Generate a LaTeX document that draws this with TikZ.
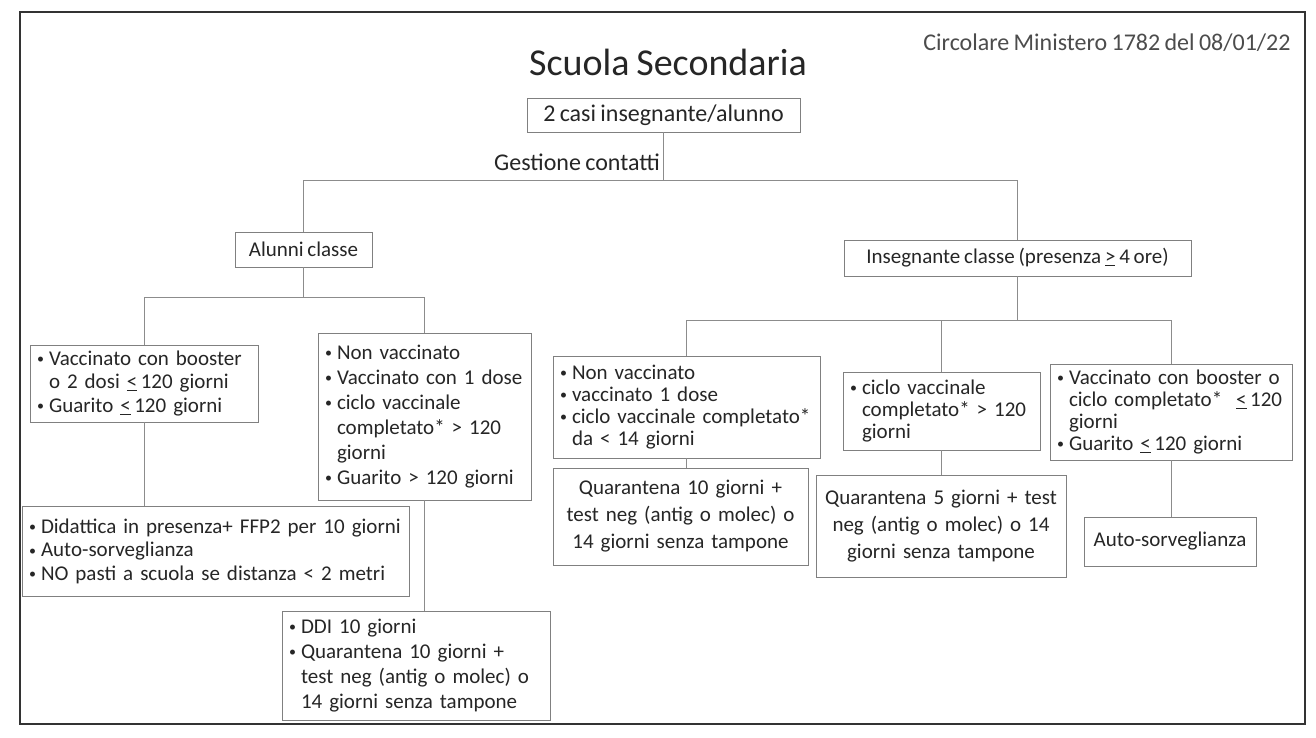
\documentclass[tikz,border=0pt]{standalone}
\usepackage{fontspec}
\setmainfont{Carlito}[WordSpace=0.8]
\newcommand\bl{\makebox[12pt][l]{\raisebox{1.5pt}{\fontsize{14}{14}\selectfont\textbullet}}}
\newcommand\ind{\hspace*{12pt}}
\newcommand\myle{\underline{<}}
\newcommand\myge{\underline{>}}
\begin{document}
\begin{tikzpicture}[x=1pt,y=-1pt,
  box/.style={draw=black!50, line width=0.8pt, inner xsep=7pt, inner ysep=0pt, text=black!85},
  conn/.style={draw=black!45, line width=0.8pt},
  fA/.style={font=\fontsize{21}{23.5}\selectfont},
  fB/.style={font=\fontsize{21}{25}\selectfont},
  fC/.style={font=\fontsize{21}{22}\selectfont},
  fD/.style={font=\fontsize{21}{27}\selectfont}]
\useasboundingbox (0,0) rectangle (1316,738);
\fill[white] (0,0) rectangle (1316,738);
\draw[line width=1.5pt, black!80] (20,12) rectangle (1305,724);

% titles
\node[text=black!85, font=\fontsize{38}{40}\selectfont] (title) at (668,62) {Scuola Secondaria};
\node[text=black!70, font=\fontsize{24}{26}\selectfont] (circ) at (1107,43) {Circolare Ministero 1782 del 08/01/22};

% top
\node[box, font=\fontsize{24}{26}\selectfont, minimum width=273pt, minimum height=34pt] (b0) at (663.5,115) {2 casi insegnante/alunno};
\node[text=black!85, font=\fontsize{24}{26}\selectfont] (gest) at (577,162) {Gestione contatti};

\node[box, fB, minimum width=137pt, minimum height=35pt] (alunni) at (303.5,249.5) {Alunni classe};
\node[box, fB, minimum width=347pt, minimum height=36pt] (ins) at (1017.5,258) {Insegnante classe (presenza \myge\ 4 ore)};

% left branch
\node[box, fA, text width=214pt, minimum height=77pt, align=left] (L1) at (144,383.5)
  {\bl Vaccinato con booster\\ \ind o 2 dosi \myle\,120 giorni\\ \bl Guarito \myle\,120 giorni};
\node[box, fB, text width=199pt, minimum height=167pt, align=left] (L2) at (424.5,416.5)
  {\bl Non vaccinato\\ \bl Vaccinato con 1 dose\\ \bl ciclo vaccinale\\ \ind completato* > 120\\ \ind giorni\\ \bl Guarito > 120 giorni};
\node[box, fA, text width=373pt, minimum height=90pt, align=left] (L3) at (215.5,551)
  {\bl Didattica in presenza+ FFP2 per 10 giorni\\ \bl Auto-sorveglianza\\ \bl NO pasti a scuola se distanza < 2 metri};
\node[box, fB, text width=254pt, minimum height=109pt, align=left] (L4) at (416,665.5)
  {\bl DDI 10 giorni\\ \bl Quarantena 10 giorni +\\ \ind test neg (antig o molec) o\\ \ind 14 giorni senza tampone};

% right branch
\node[box, fC, text width=253pt, minimum height=102pt, align=left] (R1) at (686.5,407)
  {\bl Non vaccinato\\ \bl vaccinato 1 dose\\ \bl ciclo vaccinale completato*\\ \ind da < 14 giorni};
\node[box, fD, text width=241pt, minimum height=97pt, align=center] (R1b) at (680.5,516.5)
  {Quarantena 10 giorni +\\ test neg (antig o molec) o\\ 14 giorni senza tampone};
\node[box, fC, text width=183pt, minimum height=78pt, align=left] (R2) at (941.5,411)
  {\bl ciclo vaccinale\\ \ind completato* > 120\\ \ind giorni};
\node[box, fD, text width=236pt, minimum height=102pt, align=center] (R2b) at (941,526)
  {Quarantena 5 giorni + test\\ neg (antig o molec) o 14\\ giorni senza tampone};
\node[box, fC, text width=228pt, minimum height=96pt, align=left] (R3) at (1171,412)
  {\bl Vaccinato con booster o\\ \ind ciclo completato*\ \ \myle\,120\\ \ind giorni\\ \bl Guarito \myle\,120 giorni};
\node[box, fB, minimum width=172pt, minimum height=49pt] (R3b) at (1170,541.5) {Auto-sorveglianza};

% junction coordinates
\coordinate (h1) at (0,180);
\coordinate (h2) at (0,297);
\coordinate (h3) at (0,320);

% connectors
\draw[conn] (b0.south) -- (b0.south |- h1);
\draw[conn] (alunni.north) -- (alunni.north |- h1) -- (ins.north |- h1) -- (ins.north);
\draw[conn] (alunni.south) -- (alunni.south |- h2);
\draw[conn] (L1.north) -- (L1.north |- h2) -- (L2.north |- h2) -- (L2.north);
\draw[conn] (L1.south) -- (L1.south |- L3.north);
\draw[conn] (L2.south) -- (L2.south |- L4.north);
\draw[conn] (ins.south) -- (ins.south |- h3);
\draw[conn] (R1.north) -- (R1.north |- h3) -- (R3.north |- h3) -- (R3.north);
\draw[conn] (R2.north) -- (R2.north |- h3);
\draw[conn] (R1.south) -- (R1.south |- R1b.north);
\draw[conn] (R2.south) -- (R2.south |- R2b.north);
\draw[conn] (R3.south) -- (R3.south |- R3b.north);
\end{tikzpicture}
\end{document}
